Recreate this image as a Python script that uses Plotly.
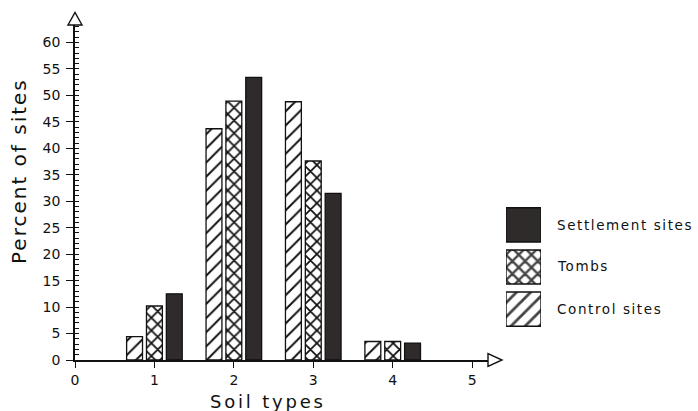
import plotly.graph_objects as go

# ---- data ----
soil_types = [1, 2, 3, 4]
control_sites = [4.4, 43.7, 48.8, 3.5]
tombs = [10.2, 48.9, 37.6, 3.5]
settlement_sites = [12.5, 53.4, 31.5, 3.2]

series_names = ["Control sites", "Tombs", "Settlement sites"]
x_ticks = [0, 1, 2, 3, 4, 5]
y_ticks = list(range(0, 61, 5))

FONT = "DejaVu Sans"
DARK = "#2f2b2b"
INK = "#111111"

W, H = 698, 411
ML, MR, MT, MB = 75, 0, 25, 51
PW = W - ML - MR
PH = H - MT - MB
X_MAX = 5.2
Y_MAX = 63.3
main_w = 413  # px width of main axes
XD = main_w / PW


def spaced(text, px):
    return f'<span style="letter-spacing:{px}px">{text}</span>'


fig = go.Figure()

hatch = dict(shape="/", fgcolor=INK, bgcolor="white", size=10, solidity=0.2, fgopacity=1)
cross = dict(shape="x", fgcolor=INK, bgcolor="white", size=9, solidity=0.35, fgopacity=1)

fig.add_trace(go.Bar(x=soil_types, y=control_sites, name=series_names[0],
                     marker=dict(color="white", pattern=hatch,
                                 line=dict(color=INK, width=1.3)),
                     showlegend=False))
fig.add_trace(go.Bar(x=soil_types, y=tombs, name=series_names[1],
                     marker=dict(color="white", pattern=cross,
                                 line=dict(color=INK, width=1.3)),
                     showlegend=False))
fig.add_trace(go.Bar(x=soil_types, y=settlement_sites, name=series_names[2],
                     marker=dict(color=DARK, line=dict(color=INK, width=1.3)),
                     showlegend=False))

# ---- custom legend built as a small bar subplot ----
legend_order = series_names  # bottom to top
fig.add_trace(go.Bar(
    x=[1, 1, 1], y=legend_order, orientation="h", width=0.81,
    xaxis="x2", yaxis="y2", showlegend=False, hoverinfo="skip",
    marker=dict(
        color=["white", "white", DARK],
        line=dict(color=INK, width=1.4),
        pattern=dict(shape=["/", "x", ""], fgcolor=INK, bgcolor="white",
                     size=[10, 9, 9], solidity=[0.28, 0.45, 0.0], fgopacity=1),
    ),
))

leg_x0 = (506 - ML) / PW
leg_x1 = (541 - ML) / PW
leg_y0 = (360 - 330.2) / PH
leg_y1 = (360 - 203.8) / PH

fig.update_layout(
    width=W, height=H,
    margin=dict(l=ML, r=MR, t=MT, b=MB, pad=0),
    paper_bgcolor="white", plot_bgcolor="white",
    barmode="group", bargap=0.25, bargroupgap=0.2,
    font=dict(family=FONT, color=INK, size=14),
    xaxis=dict(
        domain=[0, XD], range=[0, X_MAX],
        tickmode="array", tickvals=x_ticks, ticktext=[str(v) for v in x_ticks],
        ticks="outside", ticklen=6, tickwidth=1.3, tickcolor=INK,
        showline=True, linecolor=INK, linewidth=1.6,
        showgrid=False, zeroline=False,
        tickfont=dict(size=14, family=FONT),
        ticklabelstandoff=0,
    ),
    yaxis=dict(
        domain=[0, 1], range=[0, Y_MAX],
        tickmode="array", tickvals=y_ticks, ticktext=[str(v) for v in y_ticks],
        ticks="outside", ticklen=7, tickwidth=1.3, tickcolor=INK,
        minor=dict(ticks="inside", dtick=1, ticklen=4, tickwidth=1, tickcolor=INK),
        showline=True, linecolor=INK, linewidth=1.6,
        showgrid=False, zeroline=False,
        tickfont=dict(size=14, family=FONT),
        ticklabelstandoff=3,
    ),
    xaxis2=dict(domain=[leg_x0, leg_x1], range=[0, 1], anchor="y2",
                visible=False, fixedrange=True),
    yaxis2=dict(domain=[leg_y0, leg_y1], anchor="x2", visible=False,
                categoryorder="array", categoryarray=legend_order,
                range=[-0.5, 2.5], fixedrange=True),
)

# legend labels
label_y = {"Settlement sites": 225, "Tombs": 266, "Control sites": 309}
for name in series_names:
    fig.add_annotation(text=spaced(name, 1.6), xref="paper", yref="paper",
                       x=(555 - ML) / PW, y=(360 - label_y[name]) / PH,
                       xanchor="left", yanchor="middle", showarrow=False,
                       font=dict(size=13.5, family=FONT, color=INK))

# axis titles
fig.add_annotation(text=spaced("Percent of sites", 2), xref="paper", yref="paper",
                   x=(19 - ML) / PW, y=(360 - 171) / PH, textangle=-90,
                   xanchor="center", yanchor="middle", showarrow=False,
                   font=dict(size=20, family=FONT, color=INK))
fig.add_annotation(text=spaced("Soil types", 2.8), xref="paper", yref="paper",
                   x=(268 - ML) / PW, y=(360 - 401) / PH,
                   xanchor="center", yanchor="middle", showarrow=False,
                   font=dict(size=18, family=FONT, color=INK))

# axis arrowheads (paper-referenced so they are not clipped)
fig.add_shape(type="path", xref="paper", yref="paper",
              xsizemode="pixel", ysizemode="pixel",
              xanchor=0, yanchor=1, path="M-7,0 L7,0 L0,12.5 Z",
              line=dict(color=INK, width=1.4), fillcolor="white")
fig.add_shape(type="path", xref="paper", yref="paper",
              xsizemode="pixel", ysizemode="pixel",
              xanchor=XD, yanchor=0, path="M0,-6.5 L0,6.5 L14,0 Z",
              line=dict(color=INK, width=1.4), fillcolor="white")

fig.write_html("out.html", config={"displayModeBar": False},
               post_script="document.body.style.margin='0px';")
